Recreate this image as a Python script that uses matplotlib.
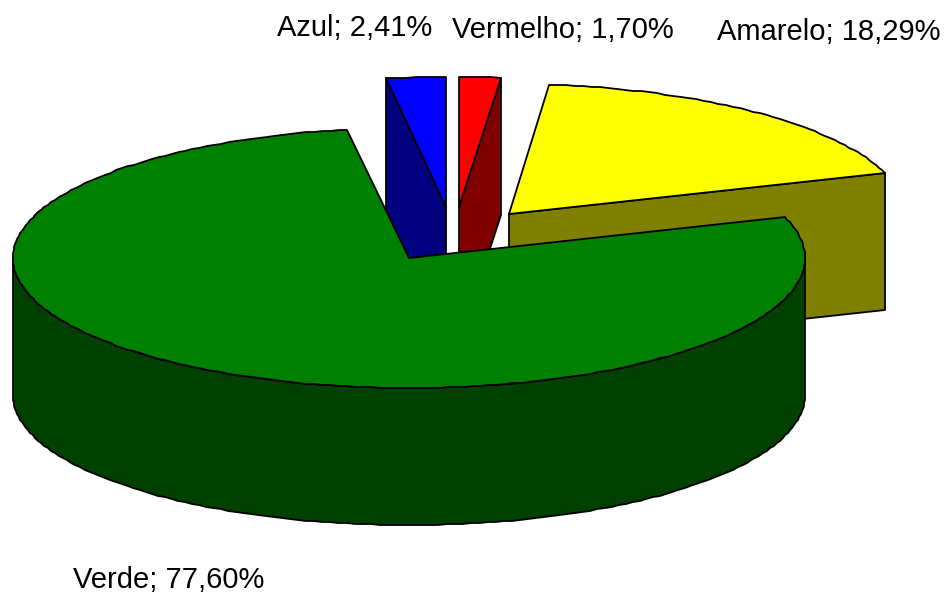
import numpy as np
import matplotlib
matplotlib.use("Agg")
import matplotlib.pyplot as plt
from matplotlib.patches import Polygon

plt.rcParams["font.family"] = ["Liberation Sans", "DejaVu Sans"]

labels = ["Azul", "Vermelho", "Amarelo", "Verde"]
values = [2.41, 1.70, 18.29, 77.60]
top_colors = ["#0000ff", "#ff0000", "#ffff00", "#008000"]
side_colors = ["#000080", "#800000", "#808000", "#004000"]

# pixel geometry of the fake 3D pie
CX, CY, RX, RY, DEPTH = 409, 258, 396, 130, 137
offsets = [(37, -51), (50, -51), (100, -44), (0, 0)]
turn = [0, 0, -0.3, -0.3]
cut_side = ["start", "end", "end", None]
label_pos = [(277, 36), (452, 38), (717, 40), (73, 588)]
draw_order = [2, 0, 1, 3]


def rim(t0, t1, ox=0, oy=0):
    """Points on the ellipse, angles in degrees clockwise from the top (rough steps like the original)."""
    t = np.radians(np.linspace(t0, t1, max(int(abs(t1 - t0) / 1.2), 2)))
    pts = np.column_stack([CX + ox + RX * np.sin(t), CY + oy - RY * np.cos(t)])
    return np.round(pts)


fig = plt.figure(figsize=(9.45, 5.93), dpi=100)
ax = fig.add_axes([0, 0, 1, 1])
ax.set_xlim(0, 945)
ax.set_ylim(593, 0)
ax.axis("off")

edges = np.cumsum([0] + values) * 3.6 - values[0] * 3.6
style = dict(edgecolor="black", linewidth=1.3, joinstyle="round")

for i in draw_order:
    t0, t1 = edges[i] + turn[i], edges[i + 1] + turn[i]
    ox, oy = offsets[i]
    apex = np.array([[CX + ox, CY + oy]])
    down = np.array([0, DEPTH])

    # flat cut face of an exploded slice
    if cut_side[i]:
        edge = rim(t0, t0, ox, oy)[:1] if cut_side[i] == "start" else rim(t1, t1, ox, oy)[:1]
        face = np.vstack([edge, apex, apex + down, edge + down])
        ax.add_patch(Polygon(face, facecolor=side_colors[i], **style))

    # outer wall, only the front half of the rim shows
    a, b = max(t0, 90), min(t1, 270)
    if b > a:
        front = rim(a, b, ox, oy)
        wall = np.vstack([front, (front + down)[::-1]])
        ax.add_patch(Polygon(wall, facecolor=side_colors[i], **style))

    top = np.vstack([apex, rim(t0, t1, ox, oy)])
    ax.add_patch(Polygon(top, facecolor=top_colors[i], **style))

for name, val, (x, y) in zip(labels, values, label_pos):
    txt = f"{name}; {val:.2f}%".replace(".", ",")
    ax.text(x, y, txt, fontsize=21, color="black", ha="left", va="baseline")

fig.savefig("out.png", dpi=100)
